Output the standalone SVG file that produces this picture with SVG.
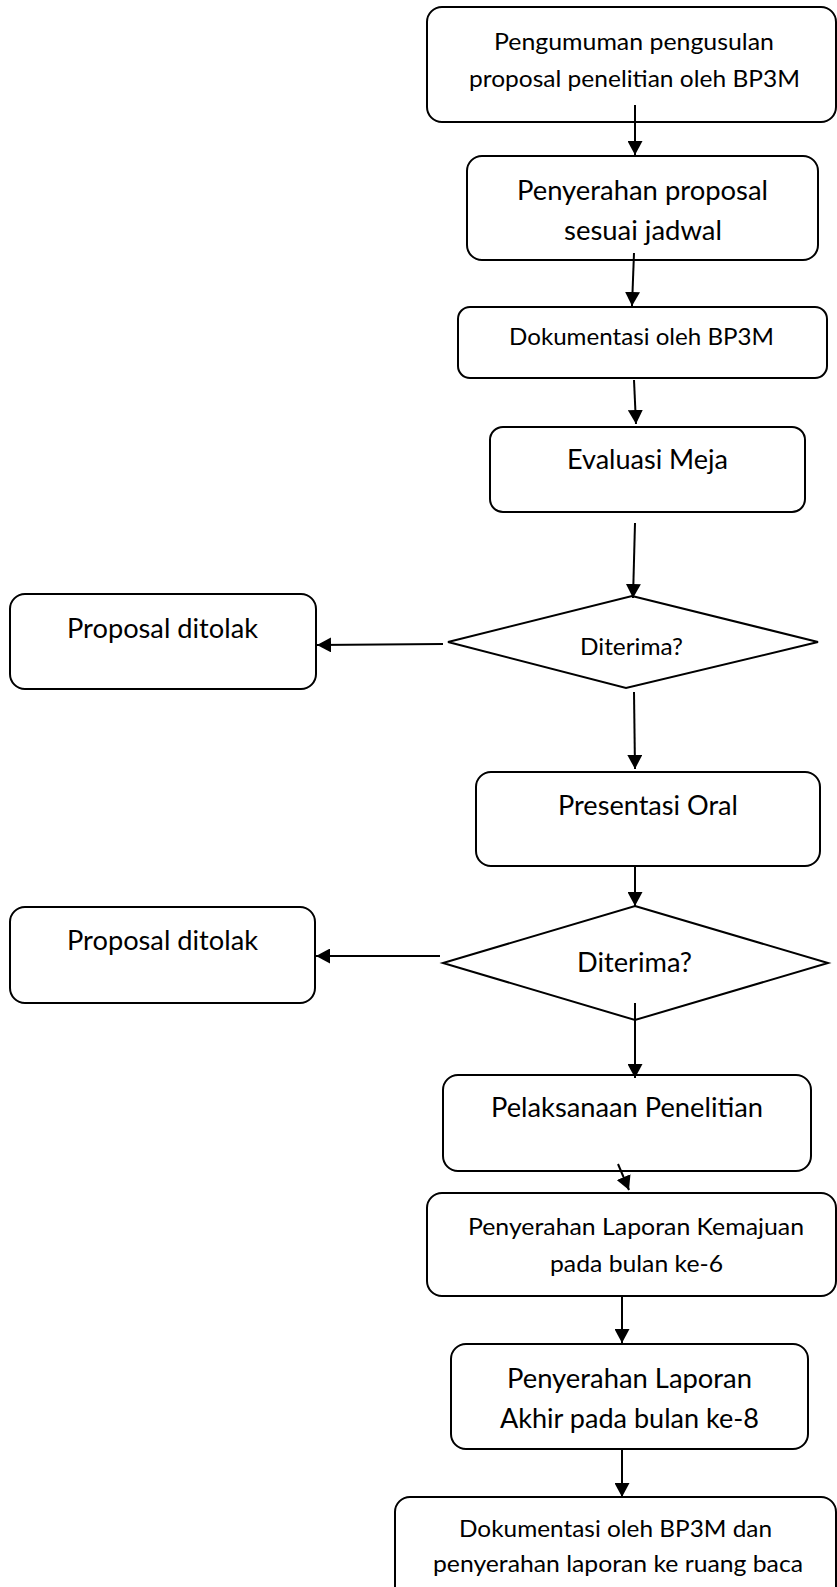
<svg xmlns="http://www.w3.org/2000/svg" width="837" height="1587" viewBox="0 0 837 1587">
  <style>
    .box { fill: #ffffff; stroke: #000000; stroke-width: 2; }
    .dia { fill: #ffffff; stroke: #000000; stroke-width: 2; stroke-linejoin: miter; }
    .lbl { font-family: Lato, "Open Sans", "Noto Sans", sans-serif; fill: #000000; text-anchor: middle; }
    .s11 { font-size: 24px; }
    .s12 { font-size: 26px; }
    .conn { fill: none; stroke: #000000; stroke-width: 2; marker-end: url(#arrow); }
  </style>
  <defs>
    <marker id="arrow" markerUnits="userSpaceOnUse" markerWidth="15" markerHeight="15" refX="14" refY="7.5" orient="auto" viewBox="0 0 15 15">
      <path d="M0,0 L14,7.5 L0,15 Z" fill="#000000"/>
    </marker>
    <clipPath id="bottomClip">
      <rect x="0" y="0" width="837" height="1576"/>
    </clipPath>
  </defs>

  <g id="node-pengumuman">
    <rect class="box" x="427" y="7" width="409" height="115" rx="15"/>
    <text class="lbl s11" x="634" y="50" textLength="280" lengthAdjust="spacingAndGlyphs">Pengumuman pengusulan</text>
    <text class="lbl s11" x="634.5" y="87" textLength="331" lengthAdjust="spacingAndGlyphs">proposal penelitian oleh BP3M</text>
  </g>

  <g id="node-penyerahan-proposal">
    <rect class="box" x="467" y="156" width="351" height="104" rx="15"/>
    <text class="lbl s12" x="642.5" y="200" textLength="251" lengthAdjust="spacingAndGlyphs">Penyerahan proposal</text>
    <text class="lbl s12" x="643" y="240" textLength="158" lengthAdjust="spacingAndGlyphs">sesuai jadwal</text>
  </g>

  <g id="node-dokumentasi">
    <rect class="box" x="458" y="307" width="369" height="71" rx="12"/>
    <text class="lbl s11" x="641.5" y="345" textLength="265" lengthAdjust="spacingAndGlyphs">Dokumentasi oleh BP3M</text>
  </g>

  <g id="node-evaluasi">
    <rect class="box" x="490" y="427" width="315" height="85" rx="13"/>
    <text class="lbl s12" x="647.5" y="469" textLength="161" lengthAdjust="spacingAndGlyphs">Evaluasi Meja</text>
  </g>

  <g id="node-diterima-1">
    <polygon class="dia" points="632,596 818,642 626,688 448,642"/>
    <text class="lbl s11" x="631.5" y="655" textLength="103" lengthAdjust="spacingAndGlyphs">Diterima?</text>
  </g>

  <g id="node-ditolak-1">
    <rect class="box" x="10" y="594" width="306" height="95" rx="15"/>
    <text class="lbl s12" x="162.5" y="638" textLength="191" lengthAdjust="spacingAndGlyphs">Proposal ditolak</text>
  </g>

  <g id="node-presentasi">
    <rect class="box" x="476" y="772" width="344" height="94" rx="15"/>
    <text class="lbl s12" x="648" y="815" textLength="180" lengthAdjust="spacingAndGlyphs">Presentasi Oral</text>
  </g>

  <g id="node-diterima-2">
    <polygon class="dia" points="635,906 828,963 635,1020 443,963"/>
    <text class="lbl s12" x="634.5" y="972" textLength="115" lengthAdjust="spacingAndGlyphs">Diterima?</text>
  </g>

  <g id="node-ditolak-2">
    <rect class="box" x="10" y="907" width="305" height="96" rx="15"/>
    <text class="lbl s12" x="162.5" y="950" textLength="191" lengthAdjust="spacingAndGlyphs">Proposal ditolak</text>
  </g>

  <g id="node-pelaksanaan">
    <rect class="box" x="443" y="1075" width="368" height="96" rx="15"/>
    <text class="lbl s12" x="627" y="1117" textLength="272" lengthAdjust="spacingAndGlyphs">Pelaksanaan Penelitian</text>
  </g>

  <g id="node-laporan-kemajuan">
    <rect class="box" x="427" y="1193" width="409" height="103" rx="15"/>
    <text class="lbl s11" x="636" y="1235" textLength="336" lengthAdjust="spacingAndGlyphs">Penyerahan Laporan Kemajuan</text>
    <text class="lbl s11" x="636.5" y="1272" textLength="173" lengthAdjust="spacingAndGlyphs">pada bulan ke-6</text>
  </g>

  <g id="node-laporan-akhir">
    <rect class="box" x="451" y="1344" width="357" height="105" rx="15"/>
    <text class="lbl s12" x="629.5" y="1388" textLength="245" lengthAdjust="spacingAndGlyphs">Penyerahan Laporan</text>
    <text class="lbl s12" x="629.5" y="1428" textLength="259" lengthAdjust="spacingAndGlyphs">Akhir pada bulan ke-8</text>
  </g>

  <g id="node-dokumentasi-akhir">
    <rect class="box" x="395" y="1497" width="441" height="130" rx="15"/>
    <g clip-path="url(#bottomClip)">
      <text class="lbl s11" x="615.5" y="1537" textLength="313" lengthAdjust="spacingAndGlyphs">Dokumentasi oleh BP3M dan</text>
      <text class="lbl s11" x="618" y="1572" textLength="370" lengthAdjust="spacingAndGlyphs">penyerahan laporan ke ruang baca</text>
    </g>
  </g>

  <g id="connectors">
    <line class="conn" x1="635" y1="105" x2="635" y2="155"/>
    <line class="conn" x1="634" y1="253" x2="632" y2="306"/>
    <line class="conn" x1="634" y1="380" x2="636" y2="424"/>
    <line class="conn" x1="635" y1="523" x2="633" y2="598"/>
    <line class="conn" x1="443" y1="644" x2="317" y2="645"/>
    <line class="conn" x1="634" y1="692" x2="635" y2="769"/>
    <line class="conn" x1="635" y1="866" x2="635" y2="906"/>
    <line class="conn" x1="440" y1="956" x2="316" y2="956"/>
    <line class="conn" x1="635" y1="1003" x2="635" y2="1078"/>
    <line class="conn" x1="618" y1="1164" x2="629" y2="1190"/>
    <line class="conn" x1="622" y1="1296" x2="622" y2="1343"/>
    <line class="conn" x1="622" y1="1449" x2="622" y2="1497"/>
  </g>
</svg>
